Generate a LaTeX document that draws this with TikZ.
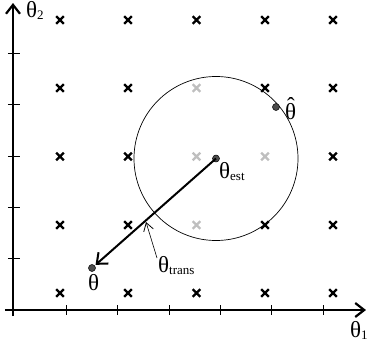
\documentclass[tikz,border=0pt]{standalone}
\usepackage{fontspec}
\setmainfont{Liberation Serif}
\usetikzlibrary{arrows.meta,shapes.misc}
\newcommand{\thsym}{{\fontsize{23}{23}\selectfont θ}}
\newcommand{\subtx}[1]{\raisebox{-2.5pt}{\fontsize{13}{13}\selectfont #1}}
\begin{document}
\begin{tikzpicture}[x=1pt,y=-1pt,
  xmark/.style={cross out,draw=black,line width=2.2pt,minimum size=5.5pt,inner sep=0pt},
  gmark/.style={xmark,draw=black!25},
  dotn/.style={circle,fill=black!70,draw=black,line width=0.5pt,inner sep=0pt,minimum size=7pt},
  axis/.style={line width=1.2pt,-{Straight Barb[length=9pt,width=14pt,line width=2.2pt]}},
  tick/.style={line width=0.8pt},
  lbl/.style={inner sep=0pt,anchor=base west}]
\useasboundingbox (0,0) rectangle (368,343);
% axes
\coordinate (yb) at (13,316); \coordinate (yt) at (13,3);
\coordinate (xl) at (5,310); \coordinate (xr) at (366,310);
\draw[axis] (yb) -- (yt);
\draw[axis] (xl) -- (xr);
\foreach \y in {53,104.5,156,207,258.5}{
  \coordinate (ya) at (8,\y); \coordinate (yc) at (20,\y);
  \draw[tick] (ya) -- (yc);}
\foreach \x in {66,117.5,169,220,271.5,323}{
  \coordinate (xa) at (\x,305); \coordinate (xc) at (\x,315);
  \draw[tick] (xa) -- (xc);}
% grid marks
\foreach \i/\x in {1/60,2/128,3/196.5,4/265,5/333}{
  \foreach \j/\y in {1/20,2/88,3/156.5,4/225,5/293}{
    \pgfmathsetmacro{\g}{((\i==3 && (\j==2 || \j==3 || \j==4)) || (\i==4 && \j==3)) ? 1 : 0}
    \ifdim\g pt>0.5pt
      \node[gmark] (m\i\j) at (\x,\y) {};
    \else
      \node[xmark] (m\i\j) at (\x,\y) {};
    \fi
  }}
% circle
\node[circle,draw=black,line width=0.7pt,minimum size=164pt,inner sep=0pt] (circ) at (216,158.5) {};
% points
\node[dotn] (est) at (216,158.5) {};
\node[dotn] (hat) at (276,107) {};
\node[dotn] (th) at (92,268) {};
% main arrow
\draw[line width=2pt,-{Straight Barb[length=9pt,width=15pt,line width=2pt]},shorten >=1pt] (est.center) -- (th);
% trans arrow
\coordinate (tstart) at (157,258);
\coordinate (ttip) at (146,222);
\draw[line width=0.6pt,-{Straight Barb[length=8pt,width=10pt,line width=0.8pt]}] (tstart) -- (ttip);
% labels
\node[lbl] (l2) at (26,17) {\thsym\subtx{2}};
\node[lbl] (l1) at (350,337) {\thsym\subtx{1}};
\node[lbl] (lhat) at (285,119) {{\fontsize{23}{23}\selectfont\rlap{\kern1.9pt\raisebox{5.5pt}{ˆ}}θ}};
\node[lbl] (lest) at (219,178) {\thsym\subtx{est}};
\node[lbl] (ltr) at (158,272) {\thsym\subtx{trans}};
\node[lbl] (lth) at (88,290) {\thsym};
\end{tikzpicture}
\end{document}
